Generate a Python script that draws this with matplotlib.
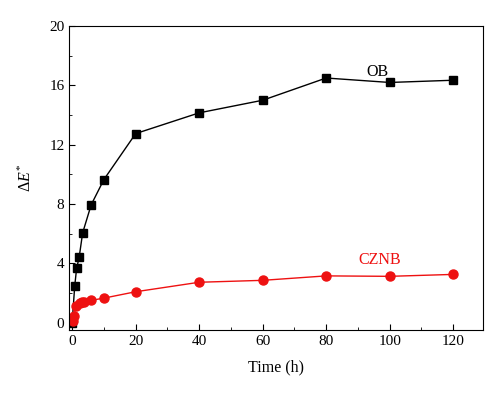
import matplotlib
matplotlib.use("Agg")
import matplotlib.pyplot as plt
from matplotlib.ticker import MultipleLocator

plt.rcParams['font.family'] = ['Liberation Serif', 'DejaVu Serif']
plt.rcParams['mathtext.fontset'] = 'custom'
plt.rcParams['mathtext.rm'] = 'Liberation Serif'
plt.rcParams['mathtext.it'] = 'Liberation Serif:italic'

# OB series
ob_time = [0, 0.8, 1.4, 2.2, 3.3, 6, 10, 20, 40, 60, 80, 100, 120]
ob_de = [0.0, 2.45, 3.65, 4.4, 6.05, 7.95, 9.65, 12.75, 14.15, 15.0, 16.5, 16.2, 16.35]

# CZNB series
czn_time = [0.2, 0.6, 1.2, 2.4, 3.1, 3.6, 6, 10, 20, 40, 60, 80, 100, 120]
czn_de = [0.1, 0.45, 1.15, 1.35, 1.4, 1.42, 1.5, 1.65, 2.08, 2.72, 2.85, 3.15, 3.12, 3.25]

fig = plt.figure(figsize=(5.0, 3.96), dpi=100)
ax = fig.add_axes([0.1386, 0.1667, 0.8268, 0.7673])

ax.plot(ob_time, ob_de, color='black', lw=1.0, marker='s', ms=6)
ax.plot(czn_time, czn_de, color='#ee1111', lw=1.0, marker='o', ms=6.5)

ax.text(96, 16.9, "OB", fontsize=11.5, ha='center', va='center', color='black')
ax.text(97, 4.2, "CZNB", fontsize=11.5, ha='center', va='center', color='#ee1111')

ax.set_xlim(-0.9, 129.3)
ax.set_ylim(-0.5, 20)
ax.xaxis.set_major_locator(MultipleLocator(20))
ax.xaxis.set_minor_locator(MultipleLocator(10))
ax.yaxis.set_major_locator(MultipleLocator(4))
ax.yaxis.set_minor_locator(MultipleLocator(2))
ax.tick_params(which='both', direction='in', labelsize=11)
ax.tick_params(which='major', length=4)
ax.tick_params(which='minor', length=2.5)

ax.set_xlabel("Time (h)", fontsize=11.5, labelpad=8)
ax.set_ylabel(r"$\Delta E^{*}$", fontsize=11.5, labelpad=10)

fig.savefig("out.png", dpi=100)
